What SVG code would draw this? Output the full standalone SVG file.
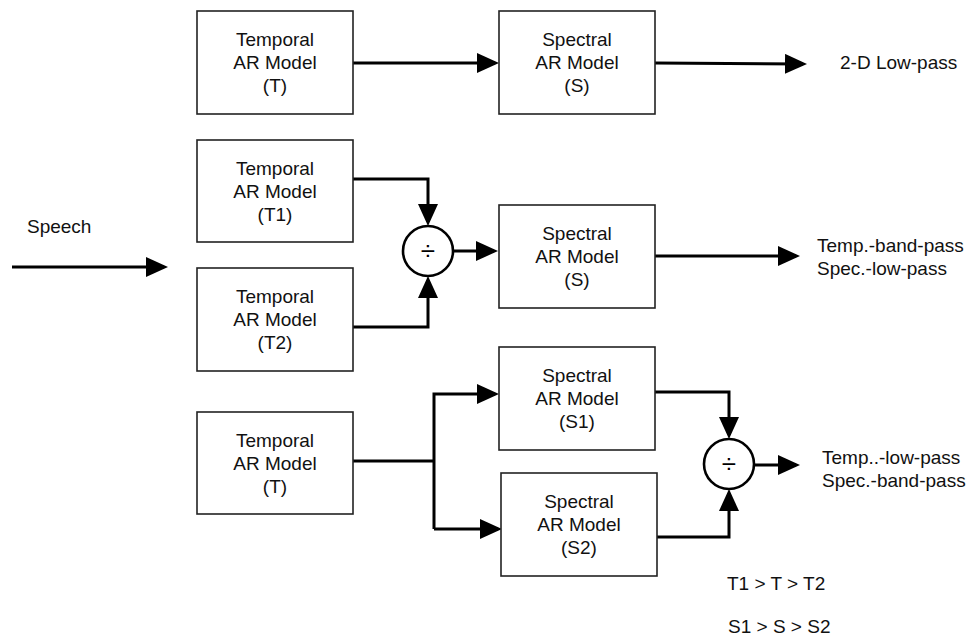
<svg xmlns="http://www.w3.org/2000/svg" width="970" height="637" viewBox="0 0 970 637">
<style>
  .box { fill: #fff; stroke: #222; stroke-width: 1.6; }
  .lbl { font-family: "Liberation Sans", Arial, sans-serif; font-size: 19px; fill: #111; text-anchor: middle; }
  .txt { font-family: "Liberation Sans", Arial, sans-serif; font-size: 19px; fill: #111; }
  .wire { fill: none; stroke: #000; stroke-width: 3; stroke-linejoin: miter; }
  .arr { marker-end: url(#ah); }
  .div { fill: #fff; stroke: #000; stroke-width: 2.6; }
  .divs { font-family: "Liberation Sans", Arial, sans-serif; font-size: 26px; fill: #000; text-anchor: middle; }
</style>
<defs>
  <marker id="ah" markerUnits="userSpaceOnUse" markerWidth="22" markerHeight="20" refX="18" refY="10" orient="auto" viewBox="0 0 22 20">
    <path d="M0,0 L22,10 L0,20 z" fill="#000"/>
  </marker>
</defs>
<rect width="970" height="637" fill="#fff"/>

<g id="connectors">
  <path class="wire arr" d="M353,63 H495"/>
  <path class="wire arr" d="M655,63 L803,64"/>
  <path class="wire arr" d="M12,267 H164"/>
  <path class="wire arr" d="M353,179 H428 V222"/>
  <path class="wire arr" d="M353,327 H428 V280"/>
  <path class="wire arr" d="M453,251 H494"/>
  <path class="wire arr" d="M655,256 H796"/>
  <path class="wire" d="M353,461 H434"/>
  <path class="wire arr" d="M434,529 V394 H495"/>
  <path class="wire arr" d="M434,529 H498"/>
  <path class="wire arr" d="M655,392 H729 V435"/>
  <path class="wire arr" d="M657,537 H729 V493"/>
  <path class="wire arr" d="M754,465 H796"/>
</g>

<g id="t-top">
  <rect class="box" x="197" y="11" width="156" height="103"/>
  <text class="lbl" x="275" y="46">Temporal</text>
  <text class="lbl" x="275" y="69">AR Model</text>
  <text class="lbl" x="275" y="92">(T)</text>
</g>
<g id="s-top">
  <rect class="box" x="499" y="11" width="156" height="103"/>
  <text class="lbl" x="577" y="46">Spectral</text>
  <text class="lbl" x="577" y="69">AR Model</text>
  <text class="lbl" x="577" y="92">(S)</text>
</g>
<g id="t1">
  <rect class="box" x="197" y="140" width="156" height="102"/>
  <text class="lbl" x="275" y="175">Temporal</text>
  <text class="lbl" x="275" y="198">AR Model</text>
  <text class="lbl" x="275" y="221">(T1)</text>
</g>
<g id="t2">
  <rect class="box" x="197" y="268" width="156" height="103"/>
  <text class="lbl" x="275" y="303">Temporal</text>
  <text class="lbl" x="275" y="326">AR Model</text>
  <text class="lbl" x="275" y="349">(T2)</text>
</g>
<g id="div1">
  <circle class="div" cx="428" cy="251" r="25"/>
  <text class="divs" x="428" y="260">÷</text>
</g>
<g id="s-mid">
  <rect class="box" x="499" y="205" width="156" height="103"/>
  <text class="lbl" x="577" y="240">Spectral</text>
  <text class="lbl" x="577" y="263">AR Model</text>
  <text class="lbl" x="577" y="286">(S)</text>
</g>
<g id="t-bot">
  <rect class="box" x="197" y="412" width="156" height="102"/>
  <text class="lbl" x="275" y="447">Temporal</text>
  <text class="lbl" x="275" y="470">AR Model</text>
  <text class="lbl" x="275" y="493">(T)</text>
</g>
<g id="s1">
  <rect class="box" x="499" y="347" width="156" height="103"/>
  <text class="lbl" x="577" y="382">Spectral</text>
  <text class="lbl" x="577" y="405">AR Model</text>
  <text class="lbl" x="577" y="428">(S1)</text>
</g>
<g id="s2">
  <rect class="box" x="501" y="473" width="156" height="103"/>
  <text class="lbl" x="579" y="508">Spectral</text>
  <text class="lbl" x="579" y="531">AR Model</text>
  <text class="lbl" x="579" y="554">(S2)</text>
</g>
<g id="div2">
  <circle class="div" cx="729" cy="464" r="25"/>
  <text class="divs" x="729" y="473">÷</text>
</g>

<g id="labels">
  <text class="txt" x="27" y="233">Speech</text>
  <text class="txt" x="840" y="69">2-D Low-pass</text>
  <text class="txt" x="817" y="252">Temp.-band-pass</text>
  <text class="txt" x="817" y="275">Spec.-low-pass</text>
  <text class="txt" x="822" y="464">Temp..-low-pass</text>
  <text class="txt" x="822" y="487">Spec.-band-pass</text>
  <text class="txt" x="727" y="590">T1 &gt; T &gt; T2</text>
  <text class="txt" x="728" y="633">S1 &gt; S &gt; S2</text>
</g>
</svg>
